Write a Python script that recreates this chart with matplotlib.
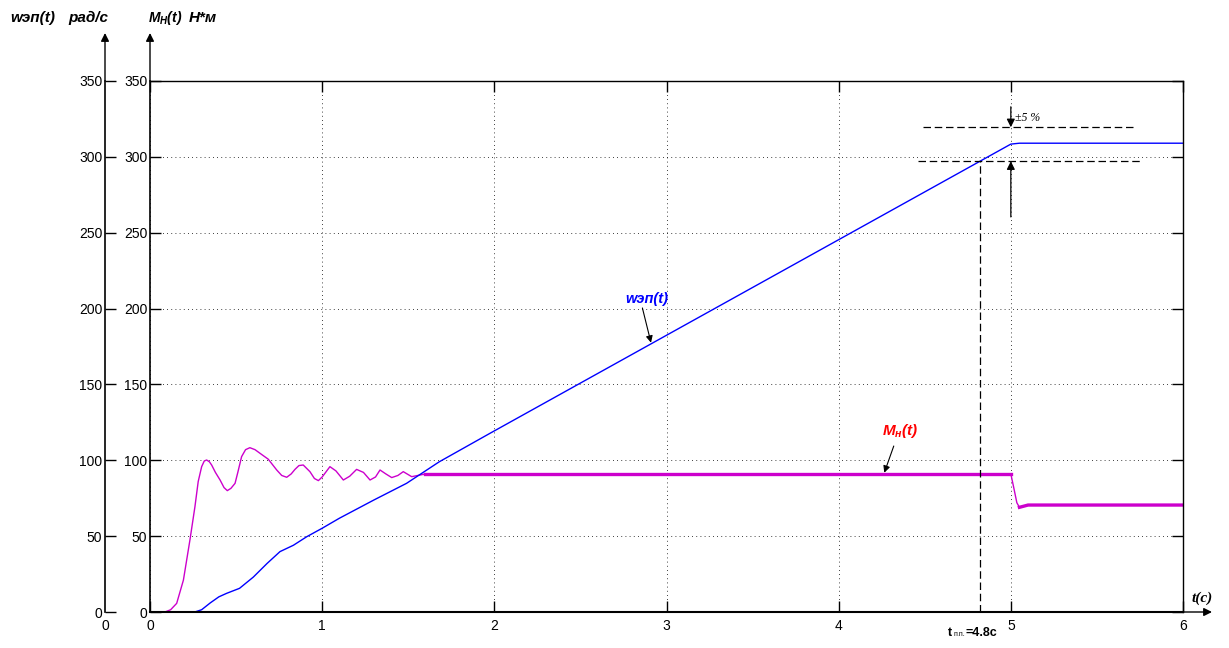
import numpy as np
import matplotlib
matplotlib.use("Agg")
from matplotlib import pyplot as plt

plt.rcParams['font.family'] = ['Liberation Sans', 'DejaVu Sans']
plt.rcParams['mathtext.fontset'] = 'custom'
plt.rcParams['mathtext.it'] = 'Liberation Sans:italic:bold'
plt.rcParams['mathtext.rm'] = 'Liberation Sans:italic:bold'

# скорость двигателя w(t), рад/с
t_w = [0, 0.26, 0.30, 0.35, 0.40, 0.445, 0.52, 0.60, 0.68, 0.755, 0.833, 0.91,
       1.0, 1.10, 1.30, 1.49, 1.68, 1.975, 3.0, 4.0, 5.0, 5.05, 6.0]
w = [0, 0, 1.5, 6, 10, 12.3, 15.6, 23, 32, 39.8, 44, 49.6,
     55.2, 61.8, 73.8, 84.8, 99, 117.8, 182.4, 245.4, 308.4, 309, 309]

# момент нагрузки M(t), Н*м
t_m = [0, 0.087, 0.12, 0.155, 0.194, 0.232, 0.261, 0.28, 0.30, 0.315, 0.329,
       0.345, 0.358, 0.38, 0.407, 0.43, 0.449, 0.47, 0.494, 0.51, 0.532,
       0.555, 0.58, 0.61, 0.639, 0.687, 0.736, 0.765, 0.794, 0.82, 0.842,
       0.865, 0.89, 0.929, 0.955, 0.978, 1.0, 1.045, 1.08, 1.123, 1.16, 1.2,
       1.24, 1.278, 1.31, 1.336, 1.37, 1.404, 1.44, 1.471, 1.52, 1.6,
       5.0, 5.015, 5.035, 5.05, 5.1, 6.0]
m = [0, 0, 1.5, 5.7, 21, 47.5, 69.4, 86, 95.8, 99.5, 100.2,
     99, 96.9, 92, 87, 82, 80, 81.5, 84.8, 92, 102.4,
     107, 108.3, 107, 104.6, 100.7, 93.6, 90, 88.8, 91, 94,
     96.5, 96.9, 92.5, 88, 86.6, 89, 95.8, 93, 87, 89.5, 94,
     92, 87, 89, 93.6, 91, 88.6, 90, 92.5, 89.2, 91,
     91, 83, 72, 69, 70.5, 70.5]

y_ticks = [0, 50, 100, 150, 200, 250, 300, 350]
x_ticks = [0, 1, 2, 3, 4, 5, 6]
band_hi = 319.5
band_lo = 297.1
t_pp = 4.82

W, H = 1229, 648
fig = plt.figure(figsize=(W / 100, H / 100), dpi=100)
px = lambda x: x / W
py = lambda y: 1 - y / H

ax = fig.add_axes([px(150), py(612), px(1183) - px(150), py(81) - py(612)])
ax.set_xlim(0, 6)
ax.set_ylim(0, 350)
ax.set_xticks(x_ticks)
ax.set_yticks(y_ticks)
ax.grid(True, linestyle=(0, (1, 4)), color='black', linewidth=0.6)
ax.tick_params(direction='in', length=8, width=1, labelsize=10, pad=2,
               top=True, right=True)
ax.tick_params(axis='x', pad=5)
for s in ax.spines.values():
    s.set_linewidth(1.0)
ax.spines['bottom'].set_linewidth(1.5)
ax.spines['left'].set_linewidth(1.2)

# curves
ax.plot(t_m, m, color='#cc00cc', linewidth=1.0)
i0 = t_m.index(1.6)
ax.plot(t_m[i0:i0 + 2], m[i0:i0 + 2], color='#cc00cc', linewidth=2.4)
i1 = t_m.index(5.05)
ax.plot(t_m[i1:], m[i1:], color='#cc00cc', linewidth=2.4)
ax.plot(t_w, w, color='#0000ff', linewidth=1.0)

# ±5% band
ax.plot([4.488, 5.727], [band_hi, band_hi], color='black', linewidth=0.9,
        dashes=(6, 3))
ax.plot([4.461, 5.75], [band_lo, band_lo], color='black', linewidth=0.9,
        dashes=(6, 3))
ax.plot([t_pp, t_pp], [0, band_lo], color='black', linewidth=0.9,
        dashes=(6, 3), clip_on=False)
ax.annotate('', xy=(5.0, band_hi), xytext=(5.0, 333),
            arrowprops=dict(arrowstyle='-|>', color='black', lw=0.9,
                            mutation_scale=12, shrinkA=0, shrinkB=0))
ax.annotate('', xy=(5.0, band_lo), xytext=(5.0, 260.4),
            arrowprops=dict(arrowstyle='-|>', color='black', lw=0.9,
                            mutation_scale=12, shrinkA=0, shrinkB=0))
ax.text(5.025, 321.5, '±5 %', family='Liberation Serif', style='italic',
        fontsize=8.5, va='bottom', ha='left')

# curve labels
ax.annotate('', xy=(2.91, 177.5), xytext=(2.86, 200.4),
            arrowprops=dict(arrowstyle='-|>', color='black', lw=0.8,
                            mutation_scale=10, shrinkA=0, shrinkB=0))
fig.text(px(647), py(299), 'wэп(t)', color='#0000ff', fontsize=10.5,
         weight='bold', style='italic', ha='center', va='center')
ax.annotate('', xy=(4.265, 91.8), xytext=(4.32, 109.4),
            arrowprops=dict(arrowstyle='-|>', color='black', lw=0.8,
                            mutation_scale=10, shrinkA=0, shrinkB=0))
fig.text(px(900), py(431), r'$M_{н}(t)$', color='#ff0000', fontsize=11,
         ha='center', va='center')

# axis arrows
ax.annotate('', xy=(0, 1 + 48 / 531), xytext=(0, 1), xycoords='axes fraction',
            arrowprops=dict(arrowstyle='-|>', color='black', lw=1.0,
                            mutation_scale=12, shrinkA=0, shrinkB=0))
ax.annotate('', xy=(1 + 29 / 1033, 0), xytext=(1, 0), xycoords='axes fraction',
            arrowprops=dict(arrowstyle='-|>', color='black', lw=1.0,
                            mutation_scale=12, shrinkA=0, shrinkB=0))

# auxiliary left axis
ax2 = fig.add_axes([px(105), py(612), 0.0001, py(81) - py(612)])
ax2.set_ylim(0, 350)
ax2.set_xlim(0, 1)
ax2.set_yticks(y_ticks)
ax2.set_xticks([0])
ax2.patch.set_visible(False)
for k in ['top', 'right', 'bottom']:
    ax2.spines[k].set_visible(False)
ax2.spines['left'].set_linewidth(1.2)
ax2.tick_params(axis='y', direction='in', length=8, width=1, labelsize=10, pad=2)
ax2.tick_params(axis='x', length=0, labelsize=10, pad=5)
ax2.annotate('', xy=(0, 1 + 48 / 531), xytext=(0, 1), xycoords='axes fraction',
             arrowprops=dict(arrowstyle='-|>', color='black', lw=1.0,
                             mutation_scale=12, shrinkA=0, shrinkB=0))

# axis titles
fig.text(px(10), py(18), 'wэп(t)', fontsize=11, weight='bold', style='italic',
         va='center')
fig.text(px(68), py(18), 'рад/с', fontsize=11, weight='bold', style='italic',
         va='center')
fig.text(px(148), py(18), r'$M_{Н}(t)$', fontsize=10, va='center')
fig.text(px(189), py(18), 'Н*м', fontsize=11, weight='bold', style='italic',
         va='center')
fig.text(px(1202), py(598), 't(c)', family='Liberation Serif', weight='bold',
         style='italic', fontsize=11, ha='center', va='center')
fig.text(px(948), py(633), 't', fontsize=9, weight='bold', va='center',
         ha='left')
fig.text(px(953), py(635), 'п.п.', fontsize=5, va='center', ha='left')
fig.text(px(966), py(633), '=4.8с', fontsize=9, weight='bold', va='center',
         ha='left')

fig.savefig('out.png', dpi=100)
